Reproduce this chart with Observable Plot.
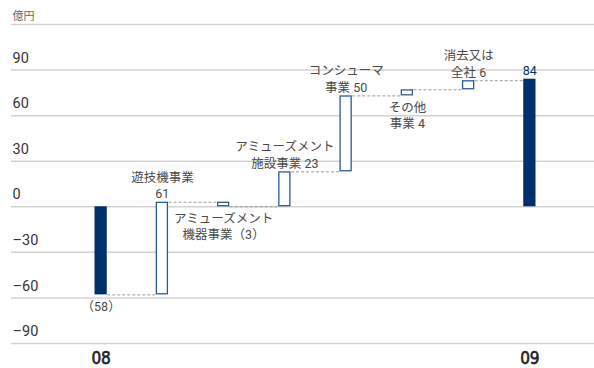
<!DOCTYPE html>
<html>
<head>
<meta charset="utf-8">
<script src="https://cdn.jsdelivr.net/npm/d3@7"></script>
<script src="https://cdn.jsdelivr.net/npm/@observablehq/plot@0.6"></script>
<style>
  html, body { margin: 0; padding: 0; background: #fff; }
  #chart svg { display: block; }
</style>
</head>
<body>
<div id="chart"></div>
<script>
// ---- data ----
const categories = ["08", "遊技機事業", "アミューズメント機器事業", "アミューズメント施設事業", "コンシューマ事業", "その他事業", "消去又は全社", "09"];
const kinds = ["total", "delta", "delta", "delta", "delta", "delta", "delta", "total"];
const values = [-58, 61, -3, 23, 50, 4, 6, 84];
const valueLabels = ["（58）", "遊技機事業\n61", "アミューズメント\n機器事業（3）", "アミューズメント\n施設事業 23", "コンシューマ\n事業 50", "その他\n事業 4", "消去又は\n全社 6", "84"];
const yTicks = [-90, -60, -30, 0, 30, 60, 90];
const yTickLabels = ["–90", "–60", "–30", "0", "30", "60", "90"];
const xTickLabels = ["08", "", "", "", "", "", "", "09"];
const unitLabel = "億円";

// ---- layout ----
const labelSide = ["below", "above", "below", "above", "above", "below", "above", "above"];
const hw = 0.1; // half bar width in index units
const navy = "#00306b";
const outline = "#2a5a93";
const textColor = "#4a4a4a";
const jp = "Roboto, 'Noto Sans CJK JP', sans-serif";

let cum = 0;
const rows = categories.map((c, i) => {
  let y1, y2;
  if (kinds[i] === "total") { y1 = 0; y2 = values[i]; cum = values[i]; }
  else { y1 = cum; y2 = cum + values[i]; cum = y2; }
  return {i, c, kind: kinds[i], y1, y2, level: cum, label: valueLabels[i], side: labelSide[i], tick: xTickLabels[i]};
});
const connectors = rows.slice(0, -1).map(r => ({x1: r.i + hw, x2: r.i + 1 - hw, y: r.level}));
const above = rows.filter(r => r.side === "above");
const below = rows.filter(r => r.side === "below");

const chart = Plot.plot({
  width: 594,
  height: 368,
  marginLeft: 70,
  marginRight: 34,
  marginTop: 24,
  marginBottom: 25,
  x: {type: "linear", domain: [-0.5, 7.5], axis: null},
  y: {domain: [-90, 120], axis: null},
  style: {fontFamily: jp, background: "#fff"},
  marks: [
    Plot.ruleY([...yTicks, 120], {stroke: "#d2d2d2", strokeWidth: 1.5, insetLeft: -59, insetRight: -34}),
    Plot.text(yTicks.map((t, k) => ({t, s: yTickLabels[k]})), {
      y: "t", text: "s", frameAnchor: "left", dx: -58, dy: -12, textAnchor: "start",
      fontSize: 14.5, fill: "#333", fontFamily: "Roboto, 'Noto Sans', sans-serif"
    }),
    Plot.text([unitLabel], {y: 120, text: d => d, frameAnchor: "left", dx: -58, dy: -8, textAnchor: "start", fontSize: 11, fill: "#666"}),
    Plot.link(connectors, {x1: "x1", x2: "x2", y1: "y", y2: "y", stroke: "#9a9a9a", strokeWidth: 1, strokeDasharray: "3,2"}),
    Plot.rect(rows.filter(r => r.kind === "total"), {x1: d => d.i - hw, x2: d => d.i + hw, y1: "y1", y2: "y2", fill: navy}),
    Plot.rect(rows.filter(r => r.kind === "delta"), {x1: d => d.i - hw, x2: d => d.i + hw, y1: "y1", y2: "y2", fill: "#fff", stroke: outline, strokeWidth: 1.3, inset: 0.6}),
    Plot.text(above, {x: "i", y: d => Math.max(d.y1, d.y2), text: "label", lineAnchor: "bottom", dy: -4, fontSize: 12.5, lineHeight: 1.33,
      fill: d => d.kind === "total" ? navy : textColor}),
    Plot.text(below, {x: "i", y: d => Math.min(d.y1, d.y2), text: "label", lineAnchor: "top", dy: 4, fontSize: 12.5, lineHeight: 1.33, fill: textColor}),
    Plot.text(rows.filter(r => r.tick), {x: "i", y: -90, text: "tick", dy: 15, fontSize: 17, fill: "#222",
      stroke: "#222", strokeWidth: 0.6,
      fontFamily: "'DejaVu Sans Condensed', 'Liberation Sans Narrow', sans-serif"})
  ]
});
document.getElementById("chart").appendChild(chart);
</script>
</body>
</html>
